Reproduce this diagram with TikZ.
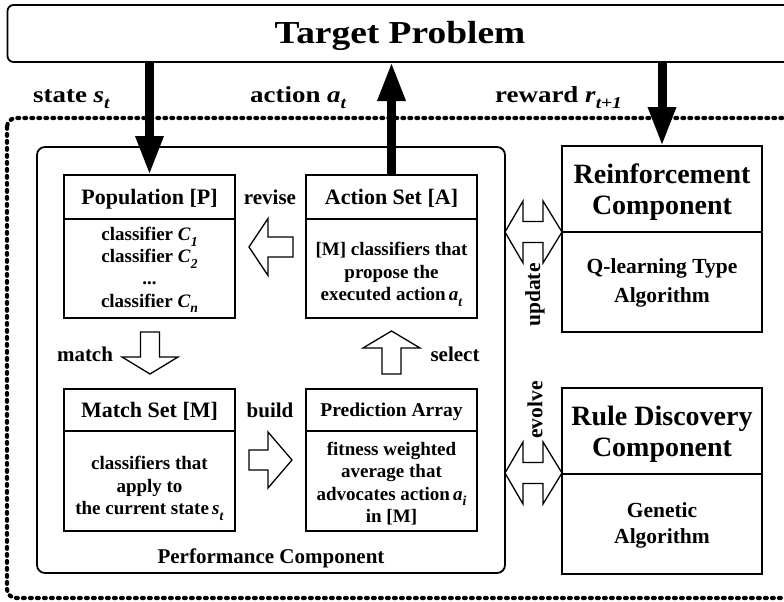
\documentclass[tikz,border=0pt]{standalone}
\usepackage{fontspec}
\setmainfont{Liberation Serif}
\newfontfamily\wideserif{Liberation Serif}[FakeStretch=1.17]
\usetikzlibrary{arrows.meta}
\makeatletter
\newdimen\vsubdim
\newcommand{\vsub}[2]{\textit{#1}\vsubdim=\f@size pt\vsubdim=0.72\vsubdim\raisebox{-0.3em}{\fontsize{\strip@pt\vsubdim}{0}\selectfont\textit{#2}}}
\makeatother
\begin{document}
\begin{tikzpicture}[x=1pt,y=-1pt,
  box/.style={draw, line width=1.8pt, inner sep=0pt, outer sep=0pt, anchor=north west},
  divider/.style={line width=1.5pt},
  outerdots/.style={line width=4.2pt, dash pattern=on 1.8pt off 5.2pt, line cap=round, rounded corners=9pt},
  bigarrow/.style={line width=9pt, -{Triangle[length=39pt,width=26pt]}},
  blockarrow/.style={draw, line width=1.3pt, fill=white, line join=miter},
  title/.style={font=\fontsize{22}{24}\selectfont\bfseries, anchor=base, inner sep=0pt},
  body/.style={font=\fontsize{19}{22.3}\selectfont\bfseries, align=center, inner sep=0pt},
  lbl/.style={font=\fontsize{21}{24}\selectfont\bfseries, inner sep=0pt},
  big/.style={font=\fontsize{28}{31.5}\selectfont\bfseries, align=center, inner sep=0pt},
  sig/.style={font=\wideserif\fontsize{23}{26}\selectfont\bfseries, anchor=base west, inner sep=0pt}]
\useasboundingbox (0,0) rectangle (784,602);

% outer dotted frame
\draw[outerdots] (7,118) rectangle (800,598);

% target problem
\node[box, rounded corners=6pt, minimum width=790pt, minimum height=57pt] (target) at (7.5,5) {};
\node[font=\wideserif\fontsize{32}{36}\selectfont\bfseries, anchor=base, inner sep=0pt] (tgtlabel) at (400,43.5) {Target Problem};

% performance component
\node[box, rounded corners=8pt, minimum width=468pt, minimum height=426pt] (perf) at (37,147) {};
\node[lbl, anchor=base] (perflabel) at (271,563) {Performance Component};

% inner boxes
\node[box, minimum width=171pt, minimum height=143pt] (pop) at (64,175) {};
\node[box, minimum width=171pt, minimum height=143pt] (act) at (306,175) {};
\node[box, minimum width=171pt, minimum height=142pt] (match) at (64,389) {};
\node[box, minimum width=171pt, minimum height=142pt] (pred) at (306,389) {};
\node[box, minimum width=200pt, minimum height=186pt] (reinf) at (562,146) {};
\node[box, minimum width=200pt, minimum height=186pt] (rule) at (562,388) {};

\draw[divider] (pop.west |- 0,219) -- (pop.east |- 0,219);
\draw[divider] (act.west |- 0,219) -- (act.east |- 0,219);
\draw[divider] (match.west |- 0,431) -- (match.east |- 0,431);
\draw[divider] (pred.west |- 0,431) -- (pred.east |- 0,431);
\draw[divider] (reinf.west |- 0,232) -- (reinf.east |- 0,232);
\draw[divider] (rule.west |- 0,474) -- (rule.east |- 0,474);

% titles
\node[title] (poptitle) at (149.5,204.5) {Population [P]};
\node[title] (acttitle) at (391.5,204.5) {Action Set [A]};
\node[title] (matchtitle) at (149.5,417.5) {Match Set [M]};
\node[title, font=\fontsize{19.5}{22}\selectfont\bfseries] (predtitle) at (391.5,416.5) {Prediction Array};
\node[big] (reinftitle) at (662,192) {Reinforcement\\Component};
\node[big] (ruletitle) at (662,434.5) {Rule Discovery\\Component};

% bodies
\node[body] (popbody) at (149.5,270) {classifier \vsub{C}{1}\\classifier \vsub{C}{2}\\...\\classifier \vsub{C}{n}};
\node[body] (actbody) at (391.5,274.5) {[M] classifiers that\\propose the\\executed action\,\vsub{a}{t}};
\node[body] (matchbody) at (149.5,488.5) {classifiers that\\apply to\\the current state\,\vsub{s}{t}};
\node[body] (predbody) at (391.5,483.5) {fitness weighted\\average that\\advocates action\,\vsub{a}{i}\\in [M]};
\node[body, font=\fontsize{21.5}{29}\selectfont\bfseries] (reinfbody) at (662,282.5) {Q-learning Type\\Algorithm};
\node[body, font=\fontsize{21.5}{26}\selectfont\bfseries] (rulebody) at (662,525) {Genetic\\Algorithm};

% signal labels
\node[sig] (statelbl) at (33,102) {state \vsub{s}{t}};
\node[sig] (actionlbl) at (250,102) {action \vsub{a}{t}};
\node[sig] (rewardlbl) at (495,102) {reward \vsub{r}{t+1}};

% block arrows
\draw[blockarrow] (293,237) -- (268,237) -- (268,218.5) -- (249,247) -- (268,275.5) -- (268,257) -- (293,257) -- cycle;
\draw[blockarrow] (140.5,332) -- (159.5,332) -- (159.5,357) -- (178,357) -- (150,374) -- (122,357) -- (140.5,357) -- cycle;
\draw[blockarrow] (382,374) -- (401,374) -- (401,348) -- (420,348) -- (391.5,331) -- (363,348) -- (382,348) -- cycle;
\draw[blockarrow] (249,450) -- (268,450) -- (268,432) -- (292,460) -- (268,488) -- (268,470) -- (249,470) -- cycle;
\draw[blockarrow] (505,232) -- (523,201) -- (523,221.5) -- (543,221.5) -- (543,201) -- (562,232) -- (543,263) -- (543,242.5) -- (523,242.5) -- (523,263) -- cycle;
\draw[blockarrow] (505,473) -- (523,442) -- (523,462.5) -- (543,462.5) -- (543,442) -- (562,473) -- (543,504) -- (543,483.5) -- (523,483.5) -- (523,504) -- cycle;

% arrow labels
\node[lbl, anchor=base] (revlbl) at (270,204.5) {revise};
\node[lbl, anchor=base] (buildlbl) at (270,417.5) {build};
\node[lbl, anchor=base] (matchlbl) at (85,361) {match};
\node[lbl, anchor=base] (selectlbl) at (455,361) {select};
\node[lbl, font=\fontsize{21.5}{24}\selectfont\bfseries, rotate=90] (updlbl) at (535,295) {update};
\node[lbl, font=\fontsize{21.5}{24}\selectfont\bfseries, rotate=90] (evolbl) at (535,410) {evolve};

% thick signal arrows
\draw[bigarrow] (target.south -| pop.north) -- (pop.north);
\draw[bigarrow] (act.north) -- (act.north |- target.south);
\draw[bigarrow] (reinf.north |- target.south) -- (reinf.north);
\end{tikzpicture}
\end{document}
